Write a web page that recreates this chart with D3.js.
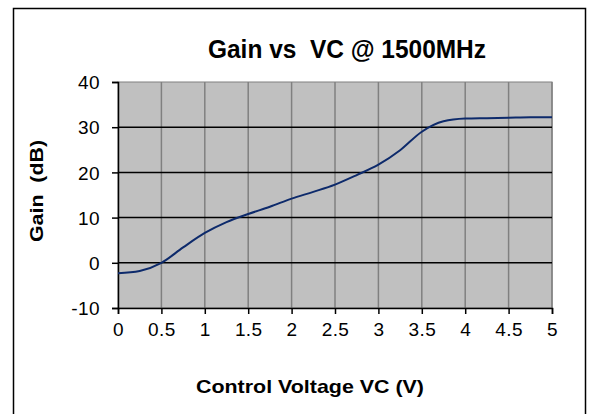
<!DOCTYPE html>
<html><head><meta charset="utf-8">
<script src="https://cdn.jsdelivr.net/npm/d3@7"></script>
<style>body{margin:0;background:#fff}svg{display:block}text{font-family:"Liberation Sans",Arial,sans-serif}</style>
</head><body>
<svg id="c" width="591" height="414"></svg>
<script>
const voltages = [0,0.25,0.5,0.75,1,1.25,1.5,1.75,2,2.25,2.5,2.75,3,3.25,3.5,3.75,4,4.25,4.5,4.75,5];
const gains = [-2.3,-1.8,0.0,3.4,6.6,9.0,10.8,12.4,14.2,15.7,17.3,19.4,21.7,24.9,29.0,31.3,31.9,32.0,32.1,32.2,32.2];
const xTicks = [0,0.5,1,1.5,2,2.5,3,3.5,4,4.5,5];
const yTicks = [-10,0,10,20,30,40];
const title = "Gain vs  VC @ 1500MHz";
const xTitle = "Control Voltage VC (V)";
const yTitle = "Gain  (dB)";

const svg = d3.select("#c");
const L = 118, R = 552, T = 82, B = 308;
const x = d3.scaleLinear().domain([0,5]).range([L,R]);
const y = d3.scaleLinear().domain([-10,40]).range([B,T]);

svg.append("rect").attr("x",13.5).attr("y",8.5).attr("width",572).attr("height",420)
  .attr("fill","#fff").attr("stroke","#000").attr("stroke-width",1.5);

svg.append("rect").attr("x",L).attr("y",T).attr("width",R-L).attr("height",B-T)
  .attr("fill","#c0c0c0").attr("stroke","#808080").attr("stroke-width",1);

svg.append("g").selectAll("line").data(xTicks.slice(1)).join("line")
  .attr("x1",d=>x(d)).attr("x2",d=>x(d)).attr("y1",T).attr("y2",B)
  .attr("stroke","#808080").attr("stroke-width",1.5);
svg.append("g").selectAll("line").data(yTicks.slice(1,-1)).join("line")
  .attr("x1",L).attr("x2",R).attr("y1",d=>y(d)).attr("y2",d=>y(d))
  .attr("stroke","#000").attr("stroke-width",1.5);

const fmt = d => String(d);
const xa = svg.append("g").attr("transform",`translate(0,${B})`)
  .call(d3.axisBottom(x).tickValues(xTicks).tickSize(6).tickPadding(9).tickFormat(fmt));
const ya = svg.append("g").attr("transform",`translate(${L},0)`)
  .call(d3.axisLeft(y).tickValues(yTicks).tickSize(6).tickPadding(12).tickFormat(fmt));
[xa,ya].forEach(g=>{
  g.select(".domain").attr("stroke","#000").attr("stroke-width",1.5);
  g.selectAll(".tick line").attr("stroke","#000").attr("stroke-width",1.5);
  g.selectAll("text").attr("font-size",19).attr("fill","#000")
    .attr("letter-spacing","0.4").attr("font-family","Liberation Sans, Arial, sans-serif");
});
ya.selectAll("text").attr("dy","0.35em");

const line = d3.line().x((d,i)=>x(voltages[i])).y(d=>y(d)).curve(d3.curveMonotoneX);
svg.append("path").datum(gains).attr("d",line).attr("fill","none")
  .attr("stroke","#0d2a6b").attr("stroke-width",2);

svg.append("text").attr("x",347).attr("y",57.5).attr("text-anchor","middle")
  .attr("font-size",25).attr("font-weight","bold").style("white-space","pre")
  .attr("textLength",278).attr("lengthAdjust","spacingAndGlyphs").text(title);
svg.append("text").attr("x",310).attr("y",393).attr("text-anchor","middle")
  .attr("font-size",19).attr("font-weight","bold")
  .attr("textLength",228).attr("lengthAdjust","spacingAndGlyphs").text(xTitle);
svg.append("text").attr("transform","translate(43,191) rotate(-90)").attr("text-anchor","middle")
  .attr("font-size",19).attr("font-weight","bold").style("white-space","pre")
  .attr("textLength",102).attr("lengthAdjust","spacingAndGlyphs").text(yTitle);
</script>
</body></html>
